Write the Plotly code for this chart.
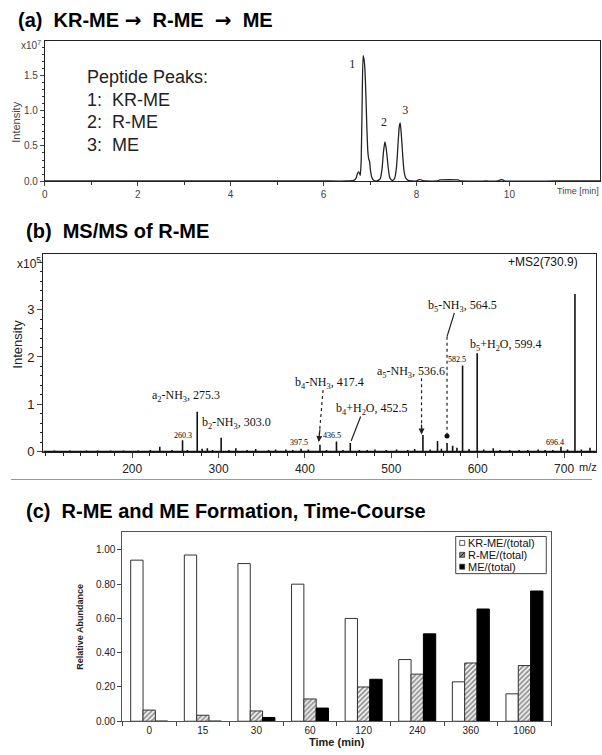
import plotly.graph_objects as go

W, H = 602, 755
def px(x):
    return x / W
def py(y):
    return 1 - y / H

SANS = "Liberation Sans, Arial, sans-serif"
SERIF = "Liberation Serif, Times New Roman, serif"

# ---------------- Panel (a): chromatogram ----------------
chrom_time = [0, 1, 2, 3, 4, 5, 6, 6.5, 6.65, 6.7, 6.73, 6.76, 6.79, 6.81, 6.83, 6.85,
              6.87, 6.89, 6.91, 6.93, 6.95, 6.97, 6.99, 7.01, 7.04, 7.08, 7.15, 7.22,
              7.26, 7.29, 7.32, 7.34, 7.36, 7.39, 7.42, 7.45, 7.49, 7.53, 7.57, 7.6,
              7.63, 7.65, 7.67, 7.7, 7.73, 7.77, 7.82, 7.9, 8.0, 8.04, 8.08, 8.12, 8.2,
              8.45, 8.5, 8.9, 8.95, 9.5, 9.76, 9.8, 9.86, 9.9, 11, 11.95]
chrom_int = [0, 0, 0, 0, 0, 0, 0, 0, 0.01, 0.04, 0.11, 0.13, 0.08, 0.3, 1.1, 1.79,
             1.74, 1.6, 1.25, 0.8, 0.45, 0.32, 0.28, 0.15, 0.05, 0.01, 0, 0.03,
             0.18, 0.42, 0.56, 0.5, 0.4, 0.2, 0.06, 0.02, 0.01, 0.04, 0.2, 0.5,
             0.78, 0.83, 0.7, 0.4, 0.15, 0.04, 0.01, 0, 0, 0.015, 0.02, 0.01, 0,
             0, 0.015, 0.015, 0, 0, 0, 0.015, 0.015, 0, 0, 0]
peak_ids = ["1", "2", "3"]
peak_id_time = [6.62, 7.3, 7.76]
peak_id_int = [1.66, 0.83, 1.0]
peak_legend = ["Peptide Peaks:", "1:  KR-ME", "2:  R-ME", "3:  ME"]

# ---------------- Panel (b): MS/MS spectrum ----------------
ms_mz = [110, 128, 147, 160, 175, 190, 207, 221, 232, 246, 258.3, 264, 275.3, 281, 287,
         293, 303.0, 312, 320, 333, 343, 358, 366, 378, 386, 395.5, 404, 417.4, 425,
         436.5, 444, 452.5, 463, 472, 481, 494, 506, 519, 527, 536.6, 545, 553.5, 558,
         564.5, 571, 576, 582.5, 590, 599.4, 607, 618, 626, 637, 648, 658, 670, 678,
         687, 696.4, 704, 712.6, 720, 730]
ms_int = [0.02, 0.02, 0.02, 0.02, 0.02, 0.02, 0.02, 0.03, 0.1, 0.03, 0.24, 0.03, 0.84,
          0.06, 0.07, 0.03, 0.29, 0.03, 0.07, 0.03, 0.05, 0.03, 0.04, 0.04, 0.03, 0.06,
          0.04, 0.14, 0.03, 0.21, 0.03, 0.18, 0.03, 0.03, 0.04, 0.03, 0.04, 0.03, 0.05,
          0.35, 0.04, 0.22, 0.06, 0.18, 0.12, 0.08, 1.82, 0.05, 2.08, 0.04, 0.07, 0.03,
          0.03, 0.03, 0.03, 0.04, 0.03, 0.03, 0.1, 0.04, 3.33, 0.04, 0.08]

ion_labels = ["a<sub>2</sub>-NH<sub>3</sub>, 275.3", "b<sub>2</sub>-NH<sub>3</sub>, 303.0",
              "b<sub>4</sub>-NH<sub>3</sub>, 417.4", "b<sub>4</sub>+H<sub>2</sub>O, 452.5",
              "a<sub>5</sub>-NH<sub>3</sub>, 536.6", "b<sub>5</sub>-NH<sub>3</sub>, 564.5",
              "b<sub>5</sub>+H<sub>2</sub>O, 599.4"]
ion_label_mz = [262, 321, 428, 477, 523, 582, 632]
ion_label_int = [1.17, 0.61, 1.45, 0.89, 1.69, 3.07, 2.25]
small_labels = ["260.3", "397.5", "436.5", "582.5", "696.4"]
small_label_mz = [258.6, 393, 431.6, 576, 689]
small_label_int = [0.33, 0.19, 0.33, 1.95, 0.2]

# ---------------- Panel (c): time course ----------------
time_cats = ["0", "15", "30", "60", "120", "240", "360", "1060"]
krme = [0.94, 0.97, 0.92, 0.80, 0.60, 0.36, 0.23, 0.16]
rme = [0.065, 0.035, 0.06, 0.13, 0.20, 0.275, 0.34, 0.325]
me = [0.0, 0.0, 0.022, 0.077, 0.245, 0.51, 0.655, 0.76]
series_names = ["KR-ME/(total)", "R-ME/(total)", "ME/(total)"]

fig = go.Figure()

# Panel a trace
fig.add_trace(go.Scatter(x=chrom_time, y=chrom_int, mode="lines",
                         line=dict(color="#222", width=1.3, shape="spline", smoothing=0.4),
                         xaxis="x", yaxis="y", showlegend=False, hoverinfo="skip"))
fig.add_trace(go.Scatter(x=peak_id_time, y=peak_id_int, mode="text", text=peak_ids,
                         textfont=dict(family=SERIF, size=12, color="#222"),
                         xaxis="x", yaxis="y", showlegend=False, hoverinfo="skip"))

# Panel b sticks
sx, sy = [], []
for m, h in zip(ms_mz, ms_int):
    sx += [m, m, None]
    sy += [0, h, None]
fig.add_trace(go.Scatter(x=sx, y=sy, mode="lines", line=dict(color="#111", width=1.6),
                         xaxis="x2", yaxis="y2", showlegend=False, hoverinfo="skip"))
fig.add_trace(go.Scatter(x=[97, 737], y=[0, 0], mode="lines", line=dict(color="#111", width=1.5),
                         xaxis="x2", yaxis="y2", showlegend=False, hoverinfo="skip"))
fig.add_trace(go.Scatter(x=[564.5], y=[0.33], mode="markers",
                         marker=dict(color="#111", size=5),
                         xaxis="x2", yaxis="y2", showlegend=False, hoverinfo="skip"))

# Panel c bars
fig.add_trace(go.Bar(x=time_cats, y=krme, name=series_names[0],
                     marker=dict(color="white", line=dict(color="#333", width=1)),
                     xaxis="x3", yaxis="y3", showlegend=False))
fig.add_trace(go.Bar(x=time_cats, y=rme, name=series_names[1],
                     marker=dict(color="white", line=dict(color="#333", width=1),
                                 pattern=dict(shape="/", fgcolor="#222", bgcolor="white",
                                              size=3.5, solidity=0.55)),
                     xaxis="x3", yaxis="y3", showlegend=False))
fig.add_trace(go.Bar(x=time_cats, y=me, name=series_names[2],
                     marker=dict(color="black", line=dict(color="black", width=1)),
                     xaxis="x3", yaxis="y3", showlegend=False))

ann = []
shapes = []

ARROW = "<span style='font-family:DejaVu Sans'>\u2192</span>"
# Titles
ann.append(dict(text="<b>(a)  KR-ME " + ARROW + "  R-ME  " + ARROW + "  ME</b>", x=px(13),
                y=py(20.5), xref="paper", yref="paper", xanchor="left", yanchor="middle",
                showarrow=False, font=dict(family=SANS, size=20, color="black")))
ann.append(dict(text="<b>(b)  MS/MS of R-ME</b>", x=px(21), y=py(233), xref="paper",
                yref="paper", xanchor="left", yanchor="middle", showarrow=False,
                font=dict(family=SANS, size=20, color="black")))
ann.append(dict(text="<b>(c)  R-ME and ME Formation, Time-Course</b>", x=px(21), y=py(516),
                xref="paper", yref="paper", xanchor="left", yanchor="middle", showarrow=False,
                font=dict(family=SANS, size=20, color="black")))

# Panel a extras
for t, yy in zip(peak_legend, [78, 101, 123.5, 146.5]):
    ann.append(dict(text=t, x=px(82), y=py(yy), xref="paper", yref="paper", xanchor="left",
                    yanchor="middle", showarrow=False,
                    font=dict(family=SANS, size=18, color="#222")))
ann.append(dict(text="x10<sup>7</sup>", x=px(40), y=py(45), xref="paper", yref="paper",
                xanchor="right", yanchor="middle", showarrow=False,
                font=dict(family=SANS, size=10, color="#444")))
ann.append(dict(text="Intensity", x=px(13), y=py(123), xref="paper", yref="paper",
                textangle=-90, xanchor="center", yanchor="middle", showarrow=False,
                font=dict(family=SANS, size=11, color="#444")))
ann.append(dict(text="Time [min]", x=px(601), y=py(193), xref="paper", yref="paper",
                xanchor="right", yanchor="middle", showarrow=False,
                font=dict(family=SANS, size=9, color="#444")))

# Panel b extras
for t, m, v in zip(ion_labels, ion_label_mz, ion_label_int):
    ann.append(dict(text=t, x=m, y=v, xref="x2", yref="y2", xanchor="center",
                    yanchor="middle", showarrow=False,
                    font=dict(family=SERIF, size=12, color="#111")))
for t, m, v in zip(small_labels, small_label_mz, small_label_int):
    ann.append(dict(text=t, x=m, y=v, xref="x2", yref="y2", xanchor="center",
                    yanchor="middle", showarrow=False,
                    font=dict(family=SERIF, size=8, color="#000")))
ann.append(dict(text="+MS2(730.9)", x=719, y=4.0, xref="x2", yref="y2", xanchor="right",
                yanchor="middle", showarrow=False, font=dict(family=SANS, size=12, color="#111")))
ann.append(dict(text="x10<sup>5</sup>", x=px(40), y=py(265), xref="paper", yref="paper",
                xanchor="right", yanchor="middle", showarrow=False,
                font=dict(family=SANS, size=12, color="#222")))
ann.append(dict(text="Intensity", x=px(15), y=py(347), xref="paper", yref="paper",
                textangle=-90, xanchor="center", yanchor="middle", showarrow=False,
                font=dict(family=SANS, size=13, color="#222")))
ann.append(dict(text="m/z", x=px(599), y=py(471), xref="paper", yref="paper",
                xanchor="right", yanchor="middle", showarrow=False,
                font=dict(family=SANS, size=11, color="#222")))

# arrows in panel b (dotted shafts + arrowheads)
arrow_lines = [((421, 1.3), (416, 0.22), "dot"), ((464.5, 0.74), (453.5, 0.22), "solid"),
               ((535, 1.55), (535, 0.38), "dot"), ((573, 2.93), (564.5, 2.43), "solid"),
               ((564.5, 2.43), (564.5, 0.36), "dot")]
for (x0, y0), (x1, y1), d in arrow_lines:
    shapes.append(dict(type="line", xref="x2", yref="y2", x0=x0, y0=y0, x1=x1, y1=y1,
                       line=dict(color="#222", width=1.2, dash=d)))
for (xt, yt), (xh, yh) in [((417.5, 0.5), (416, 0.2)), ((535, 0.6), (535, 0.36))]:
    ann.append(dict(text="", x=xh, y=yh, ax=xt, ay=yt, xref="x2", yref="y2", axref="x2",
                    ayref="y2", showarrow=True, arrowhead=2, arrowsize=1, arrowwidth=1.2,
                    arrowcolor="#222"))

# frame line below panel b
shapes.append(dict(type="line", xref="paper", yref="paper", x0=px(8), x1=px(592), y0=py(484),
                   y1=py(484), line=dict(color="#999", width=1)))

# Panel c axis titles
ann.append(dict(text="<b>Relative Abundance</b>", x=px(78), y=py(633), xref="paper",
                yref="paper", textangle=-90, xanchor="center", yanchor="middle",
                showarrow=False, font=dict(family=SANS, size=9, color="#222")))
ann.append(dict(text="<b>Time (min)</b>", x=px(336), y=py(749), xref="paper", yref="paper",
                xanchor="center", yanchor="middle", showarrow=False,
                font=dict(family=SANS, size=11, color="#222")))

# Panel c manual legend
shapes.append(dict(type="rect", xref="paper", yref="paper", x0=px(455), x1=px(546),
                   y0=py(579), y1=py(541.5), line=dict(color="#444", width=1),
                   fillcolor="white"))
leg_rows = [548, 560, 572]
for i, (name, yy) in enumerate(zip(series_names, leg_rows)):
    fill = ["white", "#888", "black"][i]
    shapes.append(dict(type="rect", xref="paper", yref="paper", x0=px(459), x1=px(464),
                       y0=py(yy + 2.5), y1=py(yy - 2.5), line=dict(color="#333", width=0.8),
                       fillcolor=fill))
    if i == 1:
        shapes.append(dict(type="line", xref="paper", yref="paper", x0=px(459), x1=px(464),
                           y0=py(yy + 2.5), y1=py(yy - 2.5), line=dict(color="#222", width=1)))
    ann.append(dict(text=name, x=px(465), y=py(yy), xref="paper", yref="paper",
                    xanchor="left", yanchor="middle", showarrow=False,
                    font=dict(family=SANS, size=11, color="#111")))

axis_common = dict(showgrid=False, zeroline=False, showline=True, mirror=True)

fig.update_layout(
    width=W, height=H, margin=dict(l=0, r=0, t=0, b=0),
    paper_bgcolor="white", plot_bgcolor="white",
    barmode="group", bargap=0.31, bargroupgap=0,
    annotations=ann, shapes=shapes,
    xaxis=dict(domain=[px(42), px(600)], range=[0, 11.95], anchor="y",
               tickvals=[0, 2, 4, 6, 8, 10], ticks="outside", ticklen=4,
               tickfont=dict(family=SANS, size=10, color="#444"),
               minor=dict(dtick=1, ticks="outside", ticklen=3, tickcolor="#333"),
               linecolor="#222", linewidth=1, **axis_common),
    yaxis=dict(domain=[py(182.7), py(41.7)], range=[0, 1.995], anchor="x",
               tickvals=[0, 0.5, 1.0, 1.5], ticktext=["0.0", "0.5", "1.0", "1.5"],
               ticks="outside", ticklen=4,
               tickfont=dict(family=SANS, size=10, color="#444"),
               minor=dict(dtick=0.1, ticks="outside", ticklen=2, tickcolor="#333"),
               linecolor="#222", linewidth=1, **axis_common),
    xaxis2=dict(domain=[px(40.4), px(596)], range=[97, 737], anchor="y2",
                tickvals=[200, 300, 400, 500, 600, 700], ticks="outside", ticklen=5,
                tickfont=dict(family=SANS, size=12, color="#222"),
                minor=dict(dtick=20, ticks="outside", ticklen=3, tickcolor="#222"),
                linecolor="#222", linewidth=1, **axis_common),
    yaxis2=dict(domain=[py(456.7), py(256.7)], range=[-0.021, 4.172], anchor="x2",
                tickvals=[0, 1, 2, 3], ticks="outside", ticklen=5,
                tickfont=dict(family=SANS, size=13, color="#222"),
                minor=dict(dtick=0.2, ticks="outside", ticklen=2, tickcolor="#222"),
                linecolor="#222", linewidth=1, **axis_common),
    xaxis3=dict(domain=[px(120), px(551)], type="category", anchor="y3",
                tickson="boundaries", ticks="outside", ticklen=4,
                tickfont=dict(family=SANS, size=10, color="#222"),
                linecolor="#555", linewidth=1, **axis_common),
    yaxis3=dict(domain=[py(728), py(537.3)], range=[0, 1.1025], anchor="x3",
                tickvals=[0, 0.2, 0.4, 0.6, 0.8, 1.0], tickformat=".2f",
                ticks="outside", ticklen=4,
                tickfont=dict(family=SANS, size=10, color="#222"),
                linecolor="#555", linewidth=1, **axis_common),
)

fig.write_html("out.html", config={"displayModeBar": False},
               post_script="document.body.style.margin='0';")
